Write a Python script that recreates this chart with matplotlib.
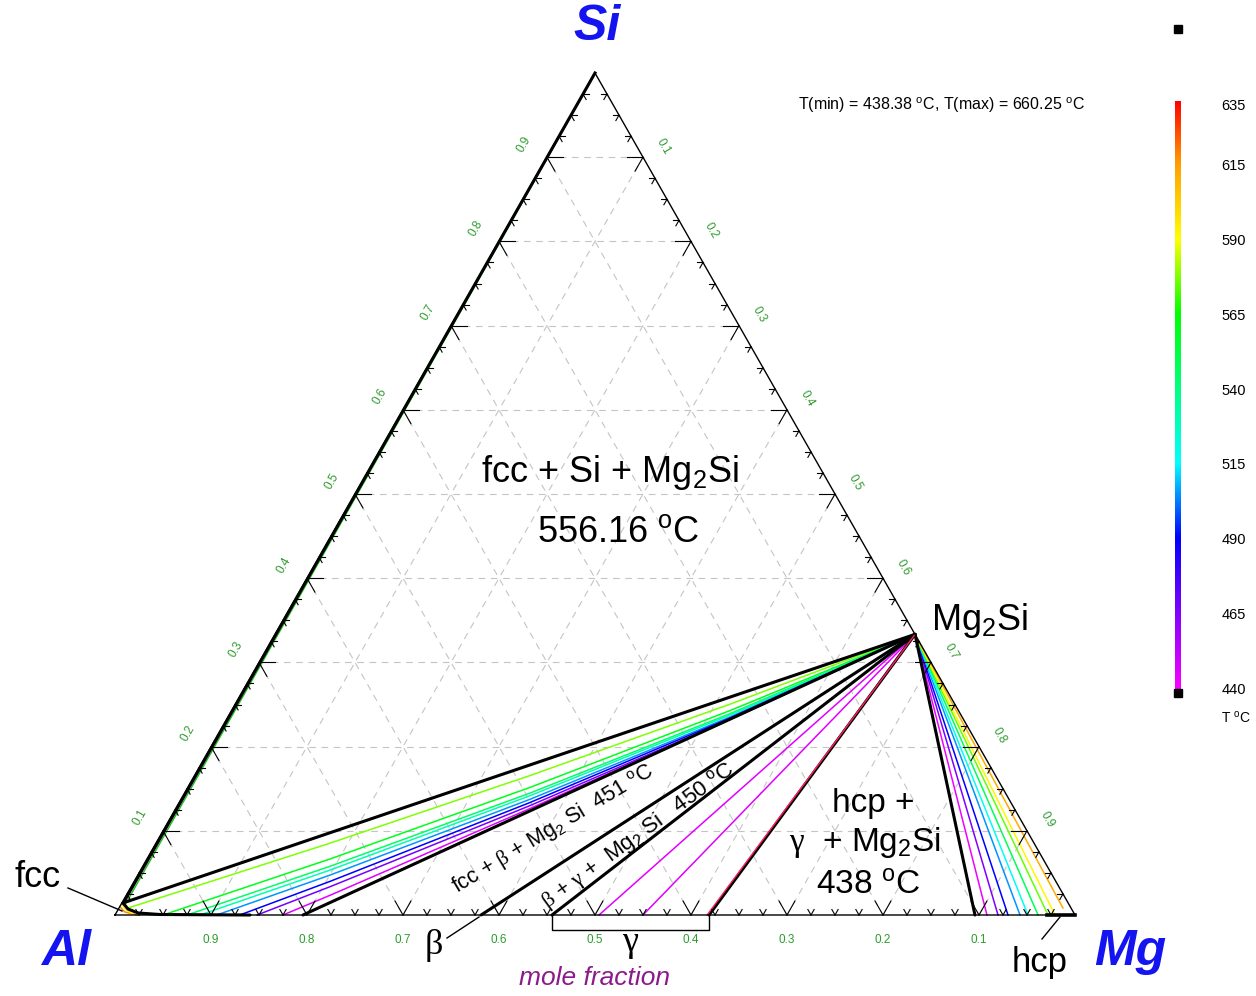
import numpy as np
import matplotlib
matplotlib.use("Agg")
import matplotlib.pyplot as plt
from matplotlib.colors import LinearSegmentedColormap, Normalize

plt.rcParams['font.family'] = ['Liberation Sans', 'DejaVu Sans']
plt.rcParams['mathtext.fontset'] = 'custom'
plt.rcParams['mathtext.rm'] = 'Liberation Serif'
plt.rcParams['mathtext.sf'] = 'Liberation Sans'
plt.rcParams['mathtext.it'] = 'Liberation Sans:italic'

# ---- data (compositions as x_Mg, x_Si) ----
T_MIN, T_MAX = 438.38, 660.25
CB_TICKS = [635, 615, 590, 565, 540, 515, 490, 465, 440]
CB_ANCHOR_T = [438.7, 465, 490, 515, 540, 565, 590, 615, 636.3]
CB_ANCHOR_C = ['#ff00ff', '#8000ff', '#0000ff', '#00ffff', '#00ff80',
               '#00ff00', '#ffff00', '#ffa000', '#ff0000']

MG2SI = (0.6667, 0.3333)

# fcc + Si + Mg2Si boundary (fcc corner -> Mg2Si)
UPPER_M = [0.0012, 0.6667]
UPPER_S = [0.0143, 0.3333]

# fcc solvus near Al corner
FCC_M = [0.0012, 0.0100, 0.0228, 0.0466, 0.1406]
FCC_S = [0.0143, 0.0071, 0.0024, 0.0006, 0.0]

# fcc + Mg2Si tie lines (Al side), one row per line, ending at Mg2Si
AL_FAN_T = [577, 560, 545, 530, 505, 490, 468, 445]
AL_FAN_M = [
    [0.0094, 0.1813, 0.3495, 0.5155],
    [0.0500, 0.1907, 0.3565, 0.5193],
    [0.0750, 0.1950, 0.3599, 0.5211],
    [0.0885, 0.1973, 0.3615, 0.5219],
    [0.1060, 0.2003, 0.3636, 0.5231],
    [0.1300, 0.2040, 0.3655, 0.5237],
    [0.1480, 0.2072, 0.3673, 0.5245],
    [0.1750, 0.2123, 0.3691, 0.5245],
]
AL_FAN_S = [
    [0.0083, 0.0853, 0.1656, 0.2504],
    [0.0, 0.0665, 0.1515, 0.2428],
    [0.0, 0.0578, 0.1448, 0.2391],
    [0.0, 0.0533, 0.1417, 0.2374],
    [0.0, 0.0474, 0.1374, 0.2352],
    [0.0, 0.0399, 0.1336, 0.2339],
    [0.0, 0.0336, 0.1299, 0.2323],
    [0.0, 0.0234, 0.1265, 0.2322],
]

# fcc + beta + Mg2Si lower boundary
LOWER_M = [0.1958, 0.6667]
LOWER_S = [0.0, 0.3333]

BETA_M = 0.3813
BETA_GAMMA_M = 0.4552
GAMMA_FAN_M = [0.5042, 0.5500]
GAMMA_FAN_T = [445, 445]
GAMMA_HCP_M = 0.6188
HCP_M = 0.8958

# hcp + Mg2Si tie lines
MG_FAN_M = [0.9083, 0.9198, 0.9302, 0.9427, 0.9510, 0.9615, 0.9719, 0.9792, 0.9833]
MG_FAN_S = [0.0, 0.0, 0.0, 0.0, 0.0, 0.0, 0.0, 0.0, 0.0083]
MG_FAN_T = [442, 465, 490, 505, 518, 548, 575, 592, 612]
HCP_SOLVUS_M = [0.9708, 1.0]

# high-T fcc + Si tie lines at the Al corner
CORNER_M = [[0.0005, 0.0085, 0.0229], [0.0015, 0.0090, 0.0180]]
CORNER_S = [[0.0095, 0.0036, 0.0], [0.0119, 0.0060, 0.0010]]
CORNER_T = [618, 595]

# ---- geometry ----
HR = 842 / 960


def xy(m, s):
    m = np.asarray(m, float)
    s = np.asarray(s, float)
    return m + 0.5 * s, s * HR


def P(px, py):
    return (px - 115) / 960, (915 - py) / 960


cmap = LinearSegmentedColormap.from_list(
    'tc', [((t - CB_ANCHOR_T[0]) / (CB_ANCHOR_T[-1] - CB_ANCHOR_T[0]), c)
           for t, c in zip(CB_ANCHOR_T, CB_ANCHOR_C)])
norm = Normalize(CB_ANCHOR_T[0], CB_ANCHOR_T[-1])

fig = plt.figure(figsize=(12.56, 9.96), dpi=100)
ax = fig.add_axes([0, 0, 1, 1])
ax.set_xlim(-115 / 960, (1256 - 115) / 960)
ax.set_ylim(-81 / 960, 915 / 960)
ax.axis('off')

# grid
gkw = dict(color='#c4c4c4', lw=0.8, dashes=(6, 5), zorder=1)
for v in np.arange(1, 10) / 10:
    ax.plot(*xy([0, 1 - v], [v, v]), **gkw)
    ax.plot(*xy([v, v], [0, 1 - v]), **gkw)
    ax.plot(*xy([0, v], [v, 0]), **gkw)

# outline
ax.plot(*xy([0, 1, 0, 0], [0, 0, 1, 0]), color='black', lw=1.0, zorder=5)

# ticks
for k in range(1, 40):
    v = k * 0.025
    L = 0.0165 if k % 4 == 0 else 0.0065
    tk = dict(color='black', lw=0.8, zorder=5)
    ax.plot(*xy([v, v], [0, L]), **tk)
    ax.plot(*xy([v, v - L], [0, L]), **tk)
    ax.plot(*xy([0, L], [v, v]), **tk)
    ax.plot(*xy([0, L], [v, v - L]), **tk)
    ax.plot(*xy([v, v - L], [1 - v, 1 - v]), **tk)
    ax.plot(*xy([v, v], [1 - v, 1 - v - L]), **tk)

# tick labels
green = '#2e9b2e'
for k in range(1, 10):
    v = k / 10
    x, y = xy(v, 0)
    ax.text(x, y - 25 / 960, f"{1 - v:.1f}", color=green, fontsize=8.5,
            ha='center', va='center')
    x, y = xy(0, v)
    ax.text(x - 23 / 960, y + 13 / 960, f"{v:.1f}", color=green, fontsize=8.5,
            ha='center', va='center', rotation=60)
    x, y = xy(v, 1 - v)
    ax.text(x + 20 / 960, y + 11 / 960, f"{v:.1f}", color=green, fontsize=8.5,
            ha='center', va='center', rotation=-60)

# Al-Si edge
ax.plot(*xy([0.0045, 0.0005], [0.0143, 0.99]), color='#20c020', lw=1.0, zorder=3)
ax.plot(*xy([0.0015, 0.0], [0.0143, 1.0]), color='black', lw=2.2, zorder=4)

# corner tie lines
for cm, cs, t in zip(CORNER_M, CORNER_S, CORNER_T):
    ax.plot(*xy(cm, cs), color=cmap(norm(t)), lw=1.1, zorder=3)

# Al-side fan
for fm, fs, t in zip(AL_FAN_M, AL_FAN_S, AL_FAN_T):
    ax.plot(*xy(fm + [MG2SI[0]], fs + [MG2SI[1]]),
            color=cmap(norm(t)), lw=1.1, zorder=3, solid_joinstyle='round')

bk = dict(color='black', lw=2.2, zorder=4, solid_capstyle='round',
          solid_joinstyle='round')
ax.plot(*xy(UPPER_M, UPPER_S), **bk)
ax.plot(*xy(FCC_M, FCC_S), **bk)
ax.plot(*xy(LOWER_M, LOWER_S), **bk)
ax.plot(*xy([BETA_M, MG2SI[0]], [0, MG2SI[1]]), **bk)
ax.plot(*xy([BETA_GAMMA_M, MG2SI[0]], [0, MG2SI[1]]), **bk)
for m, t in zip(GAMMA_FAN_M, GAMMA_FAN_T):
    ax.plot(*xy([m, MG2SI[0]], [0, MG2SI[1]]), color=cmap(norm(t)), lw=1.1, zorder=3)
ax.plot(*xy([GAMMA_HCP_M, MG2SI[0]], [0, MG2SI[1]]), **bk)
ax.plot(*xy([GAMMA_HCP_M - 0.002, MG2SI[0]], [0, MG2SI[1]]), color='#ff2060', lw=1.0, zorder=4.5)

# Mg-side fan
for m, s, t in zip(MG_FAN_M, MG_FAN_S, MG_FAN_T):
    ax.plot(*xy([m, MG2SI[0]], [s, MG2SI[1]]), color=cmap(norm(t)), lw=1.1, zorder=3)
ax.plot(*xy([HCP_M, MG2SI[0]], [0, MG2SI[1]]), **bk)
ax.plot(*xy(HCP_SOLVUS_M, [0, 0]), color='black', lw=2.6, zorder=4)

# gamma bracket
g0, _ = xy(BETA_GAMMA_M, 0)
g1, _ = xy(GAMMA_HCP_M, 0)
yb = -15 / 960
ax.plot([g0, g0, g1, g1], [0, yb, yb, 0], color='black', lw=1.0, zorder=5)

# leader lines
ax.plot(*zip(P(68, 888), P(122, 911)), color='black', lw=1.0, zorder=5)
ax.plot(*zip(P(447, 938), P(479, 917)), color='black', lw=1.0, zorder=5)
ax.plot(*zip(P(1042, 939), P(1060, 917)), color='black', lw=1.0, zorder=5)

# vertex labels
vk = dict(color='#1414f0', fontsize=36, fontweight='bold', fontstyle='italic',
          ha='center', va='center')
ax.text(*P(597, 27), 'Si', **vk)
ax.text(*P(66, 952), 'Al', **vk)
ax.text(*P(1130, 952), 'Mg', **vk)

ax.text(*P(942, 105), 'T(min) = 438.38 $^\\mathsf{o}$C, T(max) = 660.25 $^\\mathsf{o}$C',
        fontsize=11.5, ha='center', va='center')

big = dict(fontsize=24, ha='center', va='center', zorder=6)
ax.text(*P(610, 472), r'fcc + Si + Mg$_\mathsf{2}$Si', **dict(big, fontsize=26))
ax.text(*P(618, 532), r'556.16 $^\mathsf{o}$C', **dict(big, fontsize=26))
ax.text(*P(980, 620), r'Mg$_\mathsf{2}$Si', **dict(big, fontsize=26))
ax.text(*P(38, 877), 'fcc', **dict(big, fontsize=26))
ax.text(*P(873, 803), 'hcp +', **big)
ax.text(*P(865, 842), r'$\mathrm{\gamma}$  + Mg$_\mathsf{2}$Si', **big)
ax.text(*P(868, 886), r'438 $^\mathsf{o}$C', **big)
ax.text(*P(1040, 962), 'hcp', **dict(big, fontsize=25))
ax.text(*P(433, 945), r'$\mathrm{\beta}$', fontsize=26, ha='center', va='center')
ax.text(*P(631, 943), r'$\mathrm{\gamma}$', fontsize=26, ha='center', va='center')

ax.text(*P(553, 829), r'fcc + $\mathrm{\beta}$ + Mg$_\mathsf{2}$ Si  451 $^\mathsf{o}$C',
        fontsize=15.5, rotation=31, ha='center', va='center', zorder=6)
ax.text(*P(638, 836), r'$\mathrm{\beta}$ + $\mathrm{\gamma}$ +  Mg$_\mathsf{2}$ Si   450 $^\mathsf{o}$C',
        fontsize=16, rotation=36, ha='center', va='center', zorder=6)

ax.text(*P(595, 978), 'mole fraction', color='#8b1a8b', fontsize=19,
        fontstyle='italic', ha='center', va='center')

# colour bar
cax = fig.add_axes([1175 / 1256, (996 - 692) / 996, 6 / 1256, 591 / 996])
grad = np.linspace(CB_ANCHOR_T[0], CB_ANCHOR_T[-1], 256).reshape(-1, 1)
cax.imshow(grad, cmap=cmap, norm=norm, aspect='auto', origin='lower',
           extent=[0, 1, CB_ANCHOR_T[0], CB_ANCHOR_T[-1]])
cax.set_xlim(0, 1)
cax.set_ylim(CB_ANCHOR_T[0], CB_ANCHOR_T[-1])
for sp in cax.spines.values():
    sp.set_visible(False)
cax.set_xticks([])
cax.yaxis.tick_right()
cax.set_yticks(CB_TICKS)
cax.tick_params(length=0, pad=29, labelsize=10.5)
cax.plot([0.5, 0.5], [T_MIN, T_MAX], 's', color='black', ms=5.5, clip_on=False)
fig.text(1221 / 1256, 1 - 718 / 996, 'T $^\\mathsf{o}$C', fontsize=10, ha='left', va='center')

fig.savefig('out.png', dpi=100)
